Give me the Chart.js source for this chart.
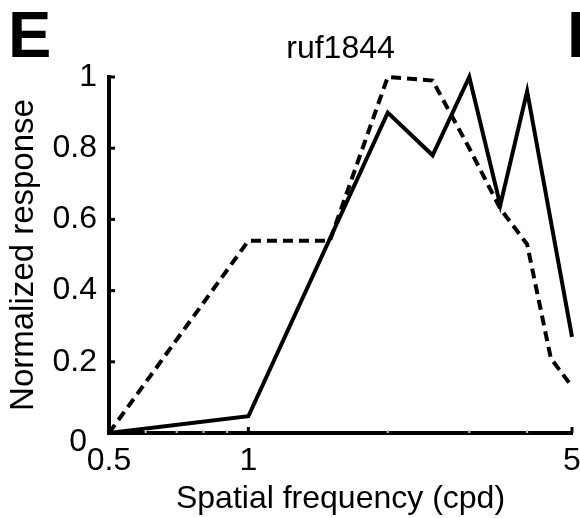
<!DOCTYPE html>
<html>
<head>
<meta charset="utf-8">
<script src="https://cdn.jsdelivr.net/npm/chart.js@4.4.1/dist/chart.umd.min.js"></script>
<style>
  html, body { margin: 0; padding: 0; background: #fff; }
  #wrap { width: 580px; height: 518px; }
</style>
</head>
<body>
<div id="wrap"><canvas id="sfChart" width="580" height="518"></canvas></div>
<script>
// spatial frequency tuning, ruf1844
const freqSolid = [0.5, 1, 2, 2.5, 3, 3.5, 4, 5];
const respSolid = [0, 0.047, 0.9, 0.78, 1.0, 0.64, 0.96, 0.27];
const freqDashed = [0.5, 1, 1.5, 2, 2.5, 3, 3.5, 4, 4.5, 5];
const respDashed = [0, 0.54, 0.54, 1.0, 0.99, 0.8, 0.63, 0.53, 0.21, 0.13];
const xTicks = [0.5, 1, 5];
const xMinorTicks = [0.6, 0.7, 0.8, 0.9, 2, 3, 4];
const yTicks = [0, 0.2, 0.4, 0.6, 0.8, 1];

const FONT = "'Liberation Sans', Arial, Helvetica, sans-serif";

function toPoints(xs, ys) {
  return xs.map((x, i) => ({ x: x, y: ys[i] }));
}

// panel letters, title, inward tick marks
const extrasPlugin = {
  id: 'extras',
  afterDraw(chart) {
    const ctx = chart.ctx;
    const xs = chart.scales.x;
    const ys = chart.scales.y;
    const area = chart.chartArea;
    ctx.save();

    // minor ticks (faint)
    ctx.strokeStyle = '#cccccc';
    ctx.lineWidth = 2;
    xMinorTicks.forEach(v => {
      const px = xs.getPixelForValue(v);
      ctx.beginPath();
      ctx.moveTo(px, area.bottom);
      ctx.lineTo(px, area.bottom - 3);
      ctx.stroke();
    });

    // major ticks pointing inward
    ctx.strokeStyle = '#000';
    ctx.lineWidth = 3;
    yTicks.forEach(v => {
      const py = ys.getPixelForValue(v);
      ctx.beginPath();
      ctx.moveTo(area.left, py);
      ctx.lineTo(area.left + 6, py);
      ctx.stroke();
    });
    xTicks.forEach(v => {
      const px = xs.getPixelForValue(v);
      ctx.beginPath();
      ctx.moveTo(px, area.bottom);
      ctx.lineTo(px, area.bottom - 6);
      ctx.stroke();
    });

    ctx.fillStyle = '#000';
    ctx.textBaseline = 'alphabetic';

    // zero label sits off in the corner
    ctx.font = '32px ' + FONT;
    ctx.textAlign = 'right';
    ctx.fillText('0', area.left - 22, ys.getPixelForValue(0) + 18);

    // title
    ctx.textAlign = 'center';
    ctx.fillText('ruf1844', (area.left + area.right) / 2, 58);

    // panel letters (next one runs off the edge)
    ctx.font = 'bold 65px ' + FONT;
    ctx.textAlign = 'left';
    ctx.fillText('E', 8, 57);
    ctx.fillText('F', 567, 57);

    ctx.restore();
  }
};

new Chart(document.getElementById('sfChart'), {
  type: 'scatter',
  data: {
    datasets: [
      {
        label: 'solid',
        data: toPoints(freqSolid, respSolid),
        showLine: true,
        borderColor: '#000',
        borderWidth: 4,
        borderJoinStyle: 'miter',
        pointRadius: 0,
        fill: false,
        clip: false
      },
      {
        label: 'dashed',
        data: toPoints(freqDashed, respDashed),
        showLine: true,
        borderColor: '#000',
        borderWidth: 4,
        borderDash: [10, 6],
        borderJoinStyle: 'miter',
        pointRadius: 0,
        fill: false,
        clip: false
      }
    ]
  },
  plugins: [extrasPlugin],
  options: {
    responsive: false,
    animation: false,
    events: [],
    layout: {
      padding: { top: 77, right: 8, left: 0, bottom: 0 }
    },
    plugins: {
      legend: { display: false },
      tooltip: { enabled: false },
      title: { display: false }
    },
    scales: {
      x: {
        type: 'logarithmic',
        min: 0.5,
        max: 5,
        afterBuildTicks(scale) {
          scale.ticks = xTicks.map(v => ({ value: v }));
        },
        afterFit(scale) {
          scale.height = 85;
          scale.paddingLeft = 0;
          scale.paddingRight = 0;
        },
        ticks: {
          color: '#000',
          font: { family: FONT, size: 32 },
          padding: 9,
          maxRotation: 0,
          autoSkip: false,
          callback: v => String(v)
        },
        grid: { display: true, drawOnChartArea: false, drawTicks: false },
        border: { display: true, color: '#000', width: 4 },
        title: {
          display: true,
          text: 'Spatial frequency (cpd)',
          color: '#000',
          font: { family: FONT, size: 32 },
          padding: { top: 2, bottom: 0 }
        }
      },
      y: {
        min: 0,
        max: 1,
        afterBuildTicks(scale) {
          scale.ticks = yTicks.map(v => ({ value: v }));
        },
        afterFit(scale) {
          scale.width = 109;
        },
        ticks: {
          color: '#000',
          font: { family: FONT, size: 32 },
          padding: 12,
          autoSkip: false,
          callback: v => (v === 0 ? '' : String(v))
        },
        grid: { display: true, drawOnChartArea: false, drawTicks: false },
        border: { display: true, color: '#000', width: 4 },
        title: {
          display: true,
          text: 'Normalized response',
          color: '#000',
          font: { family: FONT, size: 33 },
          padding: { top: 4, bottom: 0 }
        }
      }
    }
  }
});
</script>
</body>
</html>
